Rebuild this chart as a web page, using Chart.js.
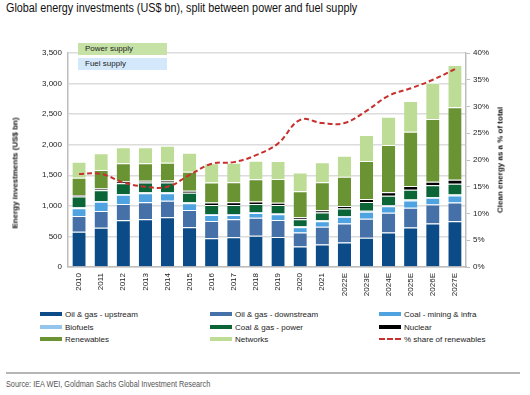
<!DOCTYPE html>
<html>
<head>
<meta charset="utf-8">
<script src="https://cdn.jsdelivr.net/npm/chart.js@4.4.1/dist/chart.umd.min.js"></script>
<style>
  body { margin: 0; width: 530px; height: 395px; position: relative; background: #fff; overflow: hidden;
         font-family: "Liberation Sans", Arial, sans-serif; color: #222; }
  #title { position: absolute; left: 6px; top: 1px; font-size: 12px; line-height: 14px; color: #111; white-space: nowrap;
           transform: scaleX(0.9); transform-origin: left top; }
  #wrap { position: absolute; left: 0; top: 0; width: 530px; height: 300px; }
  .rot { position: absolute; transform: translate(-50%, -50%) rotate(-90deg); font-weight: bold; font-size: 8px; white-space: nowrap; color: #111; }
  .box { position: absolute; left: 78px; width: 89px; font-size: 8px; line-height: 12px; padding-left: 7px; box-sizing: border-box; color: #222; }
  .leg { position: absolute; height: 12px; display: flex; align-items: center; font-size: 8px; white-space: nowrap; color: #222; }
  .leg .sw { width: 22px; height: 4px; margin-right: 3px; }
  #rule { position: absolute; left: 6px; top: 372px; width: 514px; height: 2px; background: #b5b5b5; }
  #source { position: absolute; left: 6px; top: 378px; font-size: 9px; line-height: 12px; color: #555; white-space: nowrap;
            transform: scaleX(0.81); transform-origin: left top; }
</style>
</head>
<body>
<div id="title">Global energy investments (US$ bn), split between power and fuel supply</div>
<div id="wrap"><canvas id="chart"></canvas></div>
<div class="box" style="top:43px; height:12px; background:#c6e2a6;">Power supply</div>
<div class="box" style="top:58px; height:12px; background:#d3e9fb;">Fuel supply</div>
<div class="rot" style="left:15px; top:173px;">Energy investments (US$ bn)</div>
<div class="rot" style="left:500px; top:160px;">Clean energy as a % of total</div>
<div id="legend"></div>
<div id="rule"></div>
<div id="source">Source: IEA WEI, Goldman Sachs Global Investment Research</div>

<script>
// Kategorien (Jahre)
const years = ['2010', '2011', '2012', '2013', '2014', '2015', '2016', '2017', '2018', '2019', '2020', '2021',
               '2022E', '2023E', '2024E', '2025E', '2026E', '2027E'];

// Investitionen in US$ bn, je Segment
const oilGasUpstream   = [578, 643, 764, 780, 813, 649, 470, 487, 512, 490, 334, 367, 400, 478, 565, 646, 712, 749];
const oilGasDownstream = [256, 273, 267, 278, 272, 283, 283, 293, 295, 278, 231, 293, 313, 310, 322, 321, 309, 304];
const coalMining       = [128, 150, 149, 150, 123, 110, 98, 72, 78, 94, 85, 88, 108, 115, 108, 120, 110, 116];
const biofuels         = [14, 14, 14, 14, 14, 16, 16, 15, 15, 15, 16, 18, 15, 15, 15, 15, 15, 15];
const coalGasPower     = [175, 174, 176, 158, 158, 158, 147, 147, 131, 137, 115, 124, 120, 146, 157, 163, 190, 179];
const nuclear          = [27, 28, 30, 30, 35, 33, 40, 45, 40, 35, 32, 38, 40, 48, 55, 60, 58, 65];
const renewables       = [283, 305, 296, 286, 292, 310, 326, 326, 363, 390, 427, 458, 482, 623, 774, 889, 1027, 1184];
const networks         = [262, 273, 262, 262, 278, 311, 316, 322, 305, 294, 305, 326, 343, 423, 463, 502, 594, 693];

// Anteil erneuerbarer Energien in %
const shareRenewables  = [17.4, 17.4, 15.8, 15.0, 15.0, 17.2, 19.3, 19.6, 20.9, 23.1, 27.5, 26.9, 26.9, 29.2, 32.0, 33.4, 35.0, 37.0];

// Achsenbeschriftungen
const leftTicks = [0, 500, 1000, 1500, 2000, 2500, 3000, 3500];
const rightTicks = [0, 5, 10, 15, 20, 25, 30, 35, 40];

const barSeries = [
    { label: 'Oil & gas - upstream', data: oilGasUpstream, color: '#0b4b87' },
    { label: 'Oil & gas - downstream', data: oilGasDownstream, color: '#4671a8' },
    { label: 'Coal - mining & infra', data: coalMining, color: '#4ea3e0' },
    { label: 'Biofuels', data: biofuels, color: '#93c5ed' },
    { label: 'Coal & gas - power', data: coalGasPower, color: '#0b6536' },
    { label: 'Nuclear', data: nuclear, color: '#000000' },
    { label: 'Renewables', data: renewables, color: '#6a9433' },
    { label: 'Networks', data: networks, color: '#bddc95' }
];
const lineColor = '#c8302e';

const datasets = barSeries.map(s => ({
    type: 'bar',
    label: s.label,
    data: s.data,
    backgroundColor: s.color,
    borderColor: '#ffffff',
    borderWidth: { top: 1, left: 0, right: 0, bottom: 0 },
    borderSkipped: false,
    barPercentage: 0.6,
    categoryPercentage: 1,
    yAxisID: 'y',
    order: 2
}));
datasets.push({
    type: 'line',
    label: '% share of renewables',
    data: shareRenewables,
    borderColor: lineColor,
    borderWidth: 2,
    borderDash: [5, 3],
    tension: 0.4,
    pointRadius: 0,
    fill: false,
    yAxisID: 'y1',
    order: 1
});

const tickFont = { family: '"Liberation Sans", Arial, sans-serif', size: 8 };

new Chart(document.getElementById('chart'), {
    data: { labels: years, datasets: datasets },
    options: {
        responsive: true,
        maintainAspectRatio: false,
        animation: false,
        layout: { padding: { top: 53, left: 0, right: 0, bottom: 0 } },
        plugins: { legend: { display: false }, tooltip: { enabled: false } },
        scales: {
            x: {
                stacked: true,
                grid: { display: false, drawTicks: false },
                border: { display: true, color: '#bdbdbd', width: 1.5 },
                ticks: { font: tickFont, color: '#222', minRotation: 90, maxRotation: 90, padding: 6, autoSkip: false },
                afterFit: s => { s.height = 33; }
            },
            y: {
                stacked: true,
                position: 'left',
                min: 0, max: 3500,
                afterBuildTicks: s => { s.ticks = leftTicks.map(v => ({ value: v })); },
                grid: { color: '#dcdcdc', lineWidth: 1.5, drawTicks: false },
                border: { display: true, color: '#bdbdbd', width: 1.5 },
                ticks: { font: tickFont, color: '#222', padding: 6,
                         callback: v => v.toLocaleString('en-US') },
                afterFit: s => { s.width = 68; }
            },
            y1: {
                position: 'right',
                min: 0, max: 40,
                afterBuildTicks: s => { s.ticks = rightTicks.map(v => ({ value: v })); },
                grid: { drawOnChartArea: false, drawTicks: true, tickLength: 4, color: '#bdbdbd' },
                border: { display: true, color: '#bdbdbd', width: 1.5 },
                ticks: { font: tickFont, color: '#222', padding: 3, callback: v => v + '%' },
                afterFit: s => { s.width = 64; }
            }
        }
    }
});

// Legende (3 Spalten)
const legend = document.getElementById('legend');
const colX = [40, 210, 379];
const rowY = [314, 327, 339];
const legendItems = barSeries.map(s => ({ label: s.label, color: s.color, dashed: false }));
legendItems.push({ label: '% share of renewables', color: lineColor, dashed: true });
legendItems.forEach((item, i) => {
    const el = document.createElement('div');
    el.className = 'leg';
    el.style.left = colX[i % 3] + 'px';
    el.style.top = (rowY[Math.floor(i / 3)] - 6) + 'px';
    const sw = document.createElement('span');
    sw.className = 'sw';
    if (item.dashed) {
        sw.style.height = '2.5px';
        sw.style.background = 'repeating-linear-gradient(to right, ' + item.color + ' 0 6px, transparent 6px 8px)';
    } else {
        sw.style.background = item.color;
    }
    el.appendChild(sw);
    el.appendChild(document.createTextNode(item.label));
    legend.appendChild(el);
});
</script>
</body>
</html>
